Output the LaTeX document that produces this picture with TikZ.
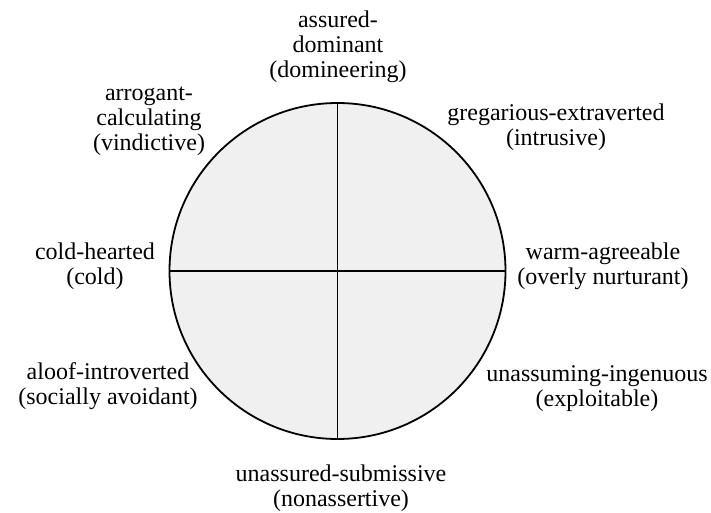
\documentclass[tikz,border=0pt]{standalone}
\usepackage{fontspec}
\setmainfont{Liberation Serif}
\begin{document}
\begin{tikzpicture}[x=1pt,y=-1pt,
  lbl/.style={align=center,inner sep=0pt,font=\fontsize{24}{24.8}\selectfont},
  edge/.style={line width=1.8pt,black}]
\useasboundingbox (0,0) rectangle (711,513);
\coordinate (c) at (337.5,271);
\filldraw[edge,fill={rgb,255:red,240;green,240;blue,240}] (c) circle[radius=168];
\draw[edge] (c) ++(0,-168) -- ++(0,336);
\draw[edge] (c) ++(-168,0) -- ++(336,0);
\node[lbl] (dom) at (338,47) {assured-\\dominant\\(domineering)};
\node[lbl] (arr) at (149,121) {arrogant-\\calculating\\(vindictive)};
\node[lbl] (gre) at (556,127) {gregarious-extraverted\\(intrusive)};
\node[lbl] (cold) at (95,266) {cold-hearted\\(cold)};
\node[lbl] (warm) at (603,266) {warm-agreeable\\(overly nurturant)};
\node[lbl] (aloof) at (108,386) {aloof-introverted\\(socially avoidant)};
\node[lbl] (unas) at (597,389) {unassuming-ingenuous\\(exploitable)};
\node[lbl] (sub) at (341,488) {unassured-submissive\\(nonassertive)};
\end{tikzpicture}
\end{document}
